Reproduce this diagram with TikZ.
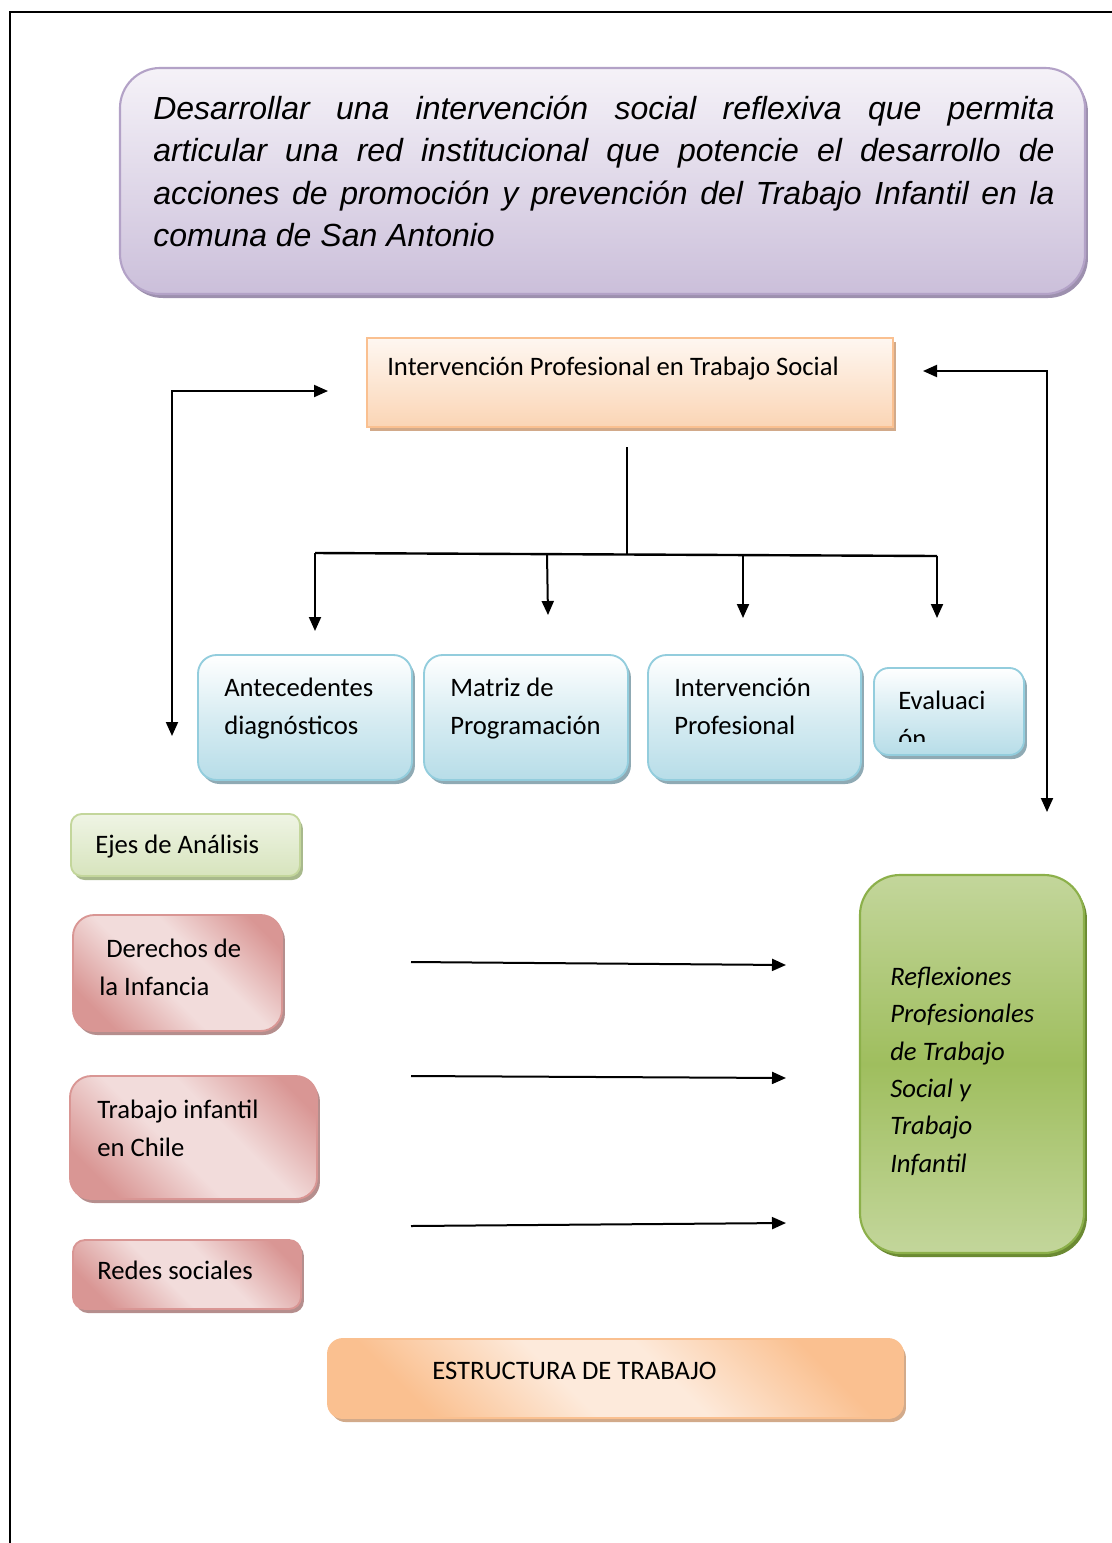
\documentclass[tikz,border=0pt]{standalone}
\usepackage{fontspec}
\setmainfont{Carlito}
\newfontfamily\arialfont{Liberation Sans}
\usetikzlibrary{arrows.meta,shadows,fit}

\definecolor{purpB}{HTML}{B3A2C7}
\definecolor{purpT}{HTML}{F5F2F8}
\definecolor{purpM}{HTML}{CBBFDA}
\definecolor{purpS}{HTML}{9D90AE}
\definecolor{orB}{HTML}{FAC090}
\definecolor{orT}{HTML}{FEF7F1}
\definecolor{orM}{HTML}{FBD5B5}
\definecolor{orS}{HTML}{D2AA8A}
\definecolor{orL}{HTML}{FDEADB}
\definecolor{bluB}{HTML}{93CDDD}
\definecolor{bluM}{HTML}{B7DDE8}
\definecolor{bluS}{HTML}{8FAAB4}
\definecolor{grnB}{HTML}{C3D69B}
\definecolor{grnM}{HTML}{D7E4BD}
\definecolor{grnS}{HTML}{A8B98C}
\definecolor{pnkB}{HTML}{D99694}
\definecolor{pnkL}{HTML}{F2DCDB}
\definecolor{pnkS}{HTML}{B58E8D}
\definecolor{bgB}{HTML}{8CB04A}
\definecolor{bgT}{HTML}{C3D69B}
\definecolor{bgM}{HTML}{9FBE5E}
\definecolor{bgS}{HTML}{6B8A33}

\pgfdeclarehorizontalshading{pinkdiag}{100bp}{color(0bp)=(pnkB); color(24bp)=(pnkB); color(44bp)=(pnkL); color(58bp)=(pnkL); color(78bp)=(pnkB); color(100bp)=(pnkB)}
\pgfdeclarehorizontalshading{orangediag}{100bp}{color(0bp)=(orB); color(26bp)=(orB); color(44bp)=(orL); color(56bp)=(orL); color(74bp)=(orB); color(100bp)=(orB)}

\newcommand\mkbox[6]{%
  \coordinate (#1-a) at (#3,#4);
  \coordinate (#1-b) at (#5,#6);
  \node[#2, fit=(#1-a)(#1-b), inner sep=0pt] (#1) {};}

\tikzset{
  shad/.style={general shadow={fill=#1, shadow xshift=2.2pt, shadow yshift=-3pt}},
  goalbox/.style={draw=purpB, line width=1.6pt, rounded corners=30pt,
    top color=purpT, bottom color=purpM, shad=purpS},
  headbox/.style={draw=orB, line width=1.4pt, top color=orT, bottom color=orM, shad=orS},
  bluebox/.style={draw=bluB, line width=1.4pt, rounded corners=#1,
    top color=white, bottom color=bluM, middle color=bluM!55!white, shad=bluS},
  ejebox/.style={draw=grnB, line width=1.4pt, rounded corners=8pt,
    top color=white!60!grnM, bottom color=grnM, shad=grnS},
  pinkbox/.style={draw=pnkB, line width=1.4pt, rounded corners=#1,
    shade, shading=pinkdiag, shading angle=45, shad=pnkS},
  bigbox/.style={draw=bgB, line width=1.6pt, rounded corners=30pt,
    top color=bgT, bottom color=bgT, middle color=bgM, shad=bgS},
  estbox/.style={draw=orB, line width=1.4pt, rounded corners=11pt,
    shade, shading=orangediag, shading angle=45, shad=orS},
  txt/.style={anchor=base west, inner sep=0pt, align=left,
    font=\fontsize{20}{28.5}\selectfont},
  itxt/.style={anchor=base west, inner sep=0pt, align=left,
    font=\fontsize{20}{28}\selectfont\itshape},
  conn/.style={line width=1.5pt, -{Triangle[length=10.5pt, width=9pt]}},
  conn2/.style={line width=1.5pt, {Triangle[length=10.5pt, width=9pt]}-{Triangle[length=10.5pt, width=9pt]}}
}

\begin{document}
\begin{tikzpicture}[x=0.75pt, y=-0.75pt]
\useasboundingbox (0,0) rectangle (1111,1543);

% frame
\draw[line width=1.5pt] (10,1560) -- (10,12) -- (1120,12);

% goal box
\mkbox{goal}{goalbox}{120}{68}{1085}{294}
\node[anchor=base west, inner sep=0pt, text width=676pt, align=justify,
  font=\arialfont\itshape\fontsize{24}{31.9}\selectfont] (goaltext) at (153,119)
  {Desarrollar una intervención social reflexiva que permita\linebreak
   articular una red institucional que potencie el desarrollo de\linebreak
   acciones de promoción y prevención del Trabajo Infantil en la\linebreak
   comuna de San Antonio};

% header box
\mkbox{head}{headbox}{367}{338}{893}{427}
\node[txt] (headtext) at (387,375) {Intervención Profesional en Trabajo Social};

% side connectors
\coordinate (Lbot) at (172,736);
\coordinate (Ltop) at (328,391);
\draw[conn2] (Lbot) |- (Ltop);
\coordinate (Rtop) at (923,371);
\coordinate (Rbot) at (1047,812);
\draw[conn2] (Rtop) -| (Rbot);

% tree
\coordinate (stemT) at (627,447);
\coordinate (stemB) at (627,554);
\draw[line width=1.3pt] (stemT) -- (stemB);
\coordinate (brA) at (315,553);
\coordinate (brB) at (547,554);
\coordinate (brC) at (743,555);
\coordinate (brD) at (937,556);
\draw[line width=1.8pt] (brA) -- (brD);
\coordinate (tA) at (315,631);
\coordinate (tB) at (548,615);
\coordinate (tC) at (743,618);
\coordinate (tD) at (937,618);
\draw[conn] (brA) -- (tA);
\draw[conn] (brB) -- (tB);
\draw[conn] (brC) -- (tC);
\draw[conn] (brD) -- (tD);

% blue boxes
\mkbox{ante}{bluebox=14pt}{198}{655}{412}{780}
\node[txt] (antetext) at (224,734) {Antecedentes\\diagnósticos};
\mkbox{matr}{bluebox=14pt}{424}{655}{628}{780}
\node[txt] (matrtext) at (450,734) {Matriz de\\Programación};
\mkbox{inte}{bluebox=14pt}{648}{655}{861}{780}
\node[txt] (intetext) at (674,734) {Intervención\\Profesional};
\mkbox{eval}{bluebox=11pt}{874}{668}{1024}{755}
\begin{scope}
  \clip (874,668) rectangle (1024,741);
  \node[txt] (evaltext) at (898,747) {Evaluaci\\ón};
\end{scope}

% left column
\mkbox{ejes}{ejebox}{71}{814}{300}{876}
\node[txt] (ejestext) at (95,853) {Ejes de Análisis};
\mkbox{dere}{pinkbox=16pt}{73}{915}{282}{1031}
\node[txt] (deretext1) at (106,957) {Derechos de};
\node[txt] (deretext2) at (99,995) {la Infancia};
\mkbox{trab}{pinkbox=16pt}{70}{1076}{317}{1199}
\node[txt] (trabtext) at (97,1156) {Trabajo infantil\\en Chile};
\mkbox{rede}{pinkbox=9pt}{73}{1240}{301}{1309}
\node[txt] (redetext) at (97,1279) {Redes sociales};

% big green box
\mkbox{refl}{bigbox}{860}{875}{1084}{1253}
\node[itxt] (refltext) at (890,1172)
  {Reflexiones\\Profesionales\\de Trabajo\\Social y\\Trabajo\\Infantil};

% horizontal arrows
\coordinate (h1s) at (411,962); \coordinate (h1e) at (786,965);
\coordinate (h2s) at (411,1076); \coordinate (h2e) at (786,1078);
\coordinate (h3s) at (411,1226); \coordinate (h3e) at (786,1223);
\draw[conn] (h1s) -- (h1e);
\draw[conn] (h2s) -- (h2e);
\draw[conn] (h3s) -- (h3e);

% bottom box
\mkbox{estr}{estbox}{328}{1339}{903}{1418}
\node[txt] (estrtext) at (432,1379) {ESTRUCTURA DE TRABAJO};

\end{tikzpicture}
\end{document}
